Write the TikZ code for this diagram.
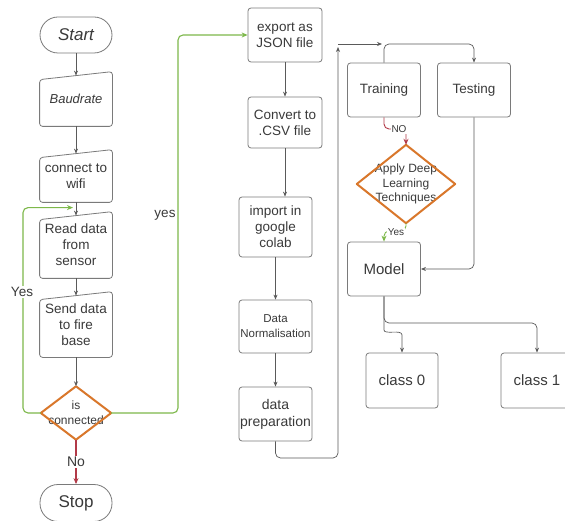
\documentclass[tikz,border=0pt]{standalone}
\usepackage{fontspec}
\setmainfont{Liberation Sans}
\usetikzlibrary{arrows.meta}
\definecolor{boxc}{HTML}{7A7A7A}
\definecolor{linec}{HTML}{5A5A5A}
\definecolor{txtc}{HTML}{3A3A3A}
\definecolor{orng}{HTML}{D9772B}
\definecolor{grn}{HTML}{7DB84A}
\definecolor{redc}{HTML}{B23A48}
\newcommand\manualshape[1]{\draw[draw=boxc,line width=0.8pt,rounded corners=3pt] ([yshift=-8pt]#1.north west) -- (#1.north east) -- (#1.south east) -- (#1.south west) -- cycle;}
\newcommand\diashape[1]{\draw[draw=orng,line width=2pt,line join=round] (#1.north) -- (#1.east) -- (#1.south) -- (#1.west) -- cycle;}
\tikzset{
 box/.style={draw=boxc, line width=0.8pt, rounded corners=3pt, minimum width=73pt, minimum height=54pt, inner sep=0pt, align=center, text=txtc, font=\fontsize{13.5}{16}\selectfont},
 manual/.style={box, draw=none},
 term/.style={box, rounded corners=18pt, minimum height=36pt, font=\fontsize{17}{20}\selectfont},
 dia/.style={inner sep=0pt, align=center, text=txtc},
 conn/.style={draw=linec, line width=0.7pt, -{Stealth[length=5pt,width=4pt]}, rounded corners=5pt},
 gconn/.style={conn, draw=grn, line width=1.1pt, -{Stealth[length=6pt,width=5pt]}, color=grn},
 rconn/.style={conn, draw=redc, line width=1.1pt, -{Stealth[length=6pt,width=5pt]}, color=redc},
 lbl/.style={text=txtc, inner sep=1pt},
}
\begin{document}
\begin{tikzpicture}[x=1pt,y=-1pt]
\useasboundingbox[fill=white] (0,0) rectangle (565,521);
% left column
\node[term, font=\itshape\fontsize{17}{20}\selectfont, minimum width=72pt] (start) at (76,35) {Start};
\node[manual, minimum width=72pt, font=\itshape\fontsize{13}{16}\selectfont] (baud) at (76,99) {Baudrate};
\node[manual, minimum width=72pt, minimum height=52pt] (wifi) at (76,176) {connect to\\wifi};
\node[manual, minimum width=72pt, minimum height=66pt] (read) at (76,245) {Read data\\from\\sensor};
\node[manual, minimum width=72pt, minimum height=65pt] (send) at (76,324.5) {Send data\\to fire\\base};
\node[dia, minimum width=70pt, minimum height=53pt, font=\fontsize{12}{15}\selectfont] (isc) at (76,413) {is\\connected};
\node[term, minimum width=72pt, minimum height=37pt] (stop) at (76,503) {Stop};
\manualshape{baud}\manualshape{wifi}\manualshape{read}\manualshape{send}
\diashape{isc}
% middle column
\node[box, minimum width=74pt] (export) at (285,35) {export as\\JSON file};
\node[box, minimum width=74pt, minimum height=51pt] (convert) at (285,122.5) {Convert to\\.CSV file};
\node[box, minimum height=60pt] (import) at (275.5,227) {import in\\google\\colab};
\node[box, minimum height=53pt, font=\fontsize{11.5}{15}\selectfont] (norm) at (275.5,326.5) {Data\\Normalisation};
\node[box, font=\fontsize{14}{17}\selectfont] (prep) at (275.5,414) {data\\preparation};
% right column
\node[box] (train) at (384,90) {Training};
\node[box] (test) at (474,90) {Testing};
\node[dia, minimum width=98pt, minimum height=78pt, font=\fontsize{12}{14.5}\selectfont] (ddl) at (406,184) {Apply Deep\\Learning\\Techniques};
\diashape{ddl}
\node[box, font=\fontsize{15}{18}\selectfont] (model) at (384,269) {Model};
\node[box, minimum width=72pt, minimum height=55pt, font=\fontsize{15}{18}\selectfont] (class0) at (402,380.5) {class 0};
\node[box, minimum width=72pt, minimum height=55pt, font=\fontsize{15}{18}\selectfont] (class1) at (537,380.5) {class 1};
% coordinates
\coordinate (gl) at (23,300);
\coordinate (gr) at (178,200);
\coordinate (pb) at (300,458);
\coordinate (pt) at (338,47);
\coordinate (pt2) at (338,44);
\coordinate (jn) at (382,44);
\coordinate (tt) at (430,44);
\coordinate (nob) at (406,129);
\coordinate (ya) at (395,231);
\coordinate (mj) at (450,323);
% left connectors
\draw[conn] (start.south) -- ([yshift=-4pt]baud.north);
\draw[conn] (baud.south) -- ([yshift=-4pt]wifi.north);
\draw[conn] (wifi.south) -- ([yshift=-4pt]read.north);
\draw[conn] (read.south) -- ([yshift=-4pt]send.north);
\draw[conn] (send.south) -- (isc.north);
\draw[rconn] (isc.south) -- node[lbl, fill=white, font=\fontsize{14}{16}\selectfont] {No} (stop.north);
\draw[gconn] (isc.west) -| (gl) |- ([xshift=-3pt,yshift=4pt]read.north);
\node[lbl, fill=white, font=\fontsize{13.5}{16}\selectfont] (yesl) at (22,292) {Yes};
\draw[gconn] (isc.east) -| (gr) |- (export.west);
\node[lbl, font=\fontsize{13.5}{16}\selectfont] (yesr) at (165,215) {yes};
% middle connectors
\draw[conn] (export.south) -- (convert.north);
\draw[conn] (convert.south) -- (convert.south |- import.north);
\draw[conn] (import.south) -- (norm.north);
\draw[conn] (norm.south) -- (prep.north);
\draw[conn] (prep.south) |- (pb) -| (pt);
\draw[conn] (pt2) -- (jn);
% right connectors
\draw[conn] (train.north) |- (tt) -| (test.north);
\draw[rconn, line width=0.9pt] (train.south) |- (nob) -- (ddl.north);
\node[lbl, fill=white, font=\fontsize{10}{12}\selectfont] (nol) at (399,129) {NO};
\draw[gconn, line width=0.9pt] (ddl.south) |- (ya) -| (model.north);
\node[lbl, fill=white, font=\fontsize{10}{12}\selectfont] (yl2) at (396,232) {Yes};
\draw[conn] (test.south) |- (model.east);
\draw[conn] (model.south) -- (384,325) .. controls (384,335) and (402,329) .. (402,340) -- (class0.north);
\draw[conn] (model.south) |- (mj) -| (class1.north);
\end{tikzpicture}
\end{document}
